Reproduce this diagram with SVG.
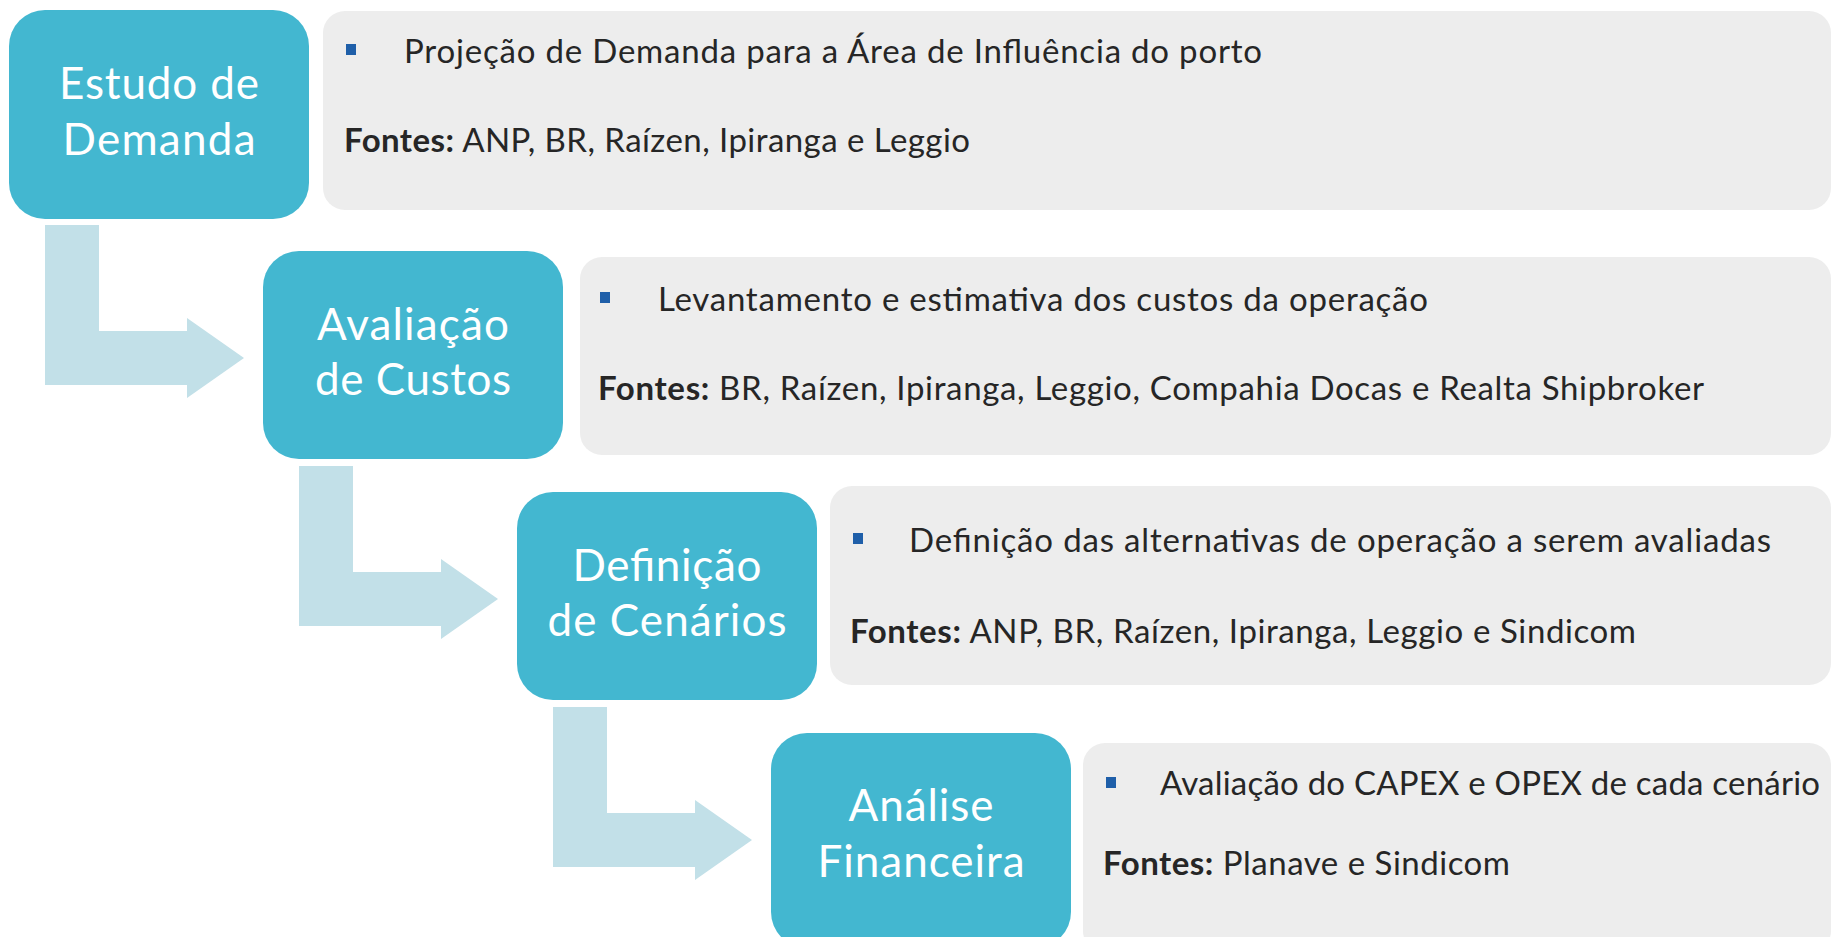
<svg xmlns="http://www.w3.org/2000/svg" width="1833" height="937" viewBox="0 0 1833 937">
<style>
.node rect{fill:#43B7D0}
.node text{font-family:Lato,"Liberation Sans",sans-serif;font-size:44px;fill:#FFFFFF;text-anchor:middle}
.panel rect.bg{fill:#EDEDED}
.panel rect.bul{fill:#1F5FA9}
.panel text{font-family:Lato,"Liberation Sans",sans-serif;font-size:33px;fill:#262626}
.panel tspan.b{font-weight:bold}
.arrow{fill:#C2E0E8}
</style>
<rect width="1833" height="937" fill="#FFFFFF"/>
<g id="connectors">
<polygon class="arrow" points="45,225 99,225 99,331 187,331 187,318 244,358 187,398 187,385 45,385"/>
<polygon class="arrow" points="299,466 353,466 353,572 441,572 441,559 498,599 441,639 441,626 299,626"/>
<polygon class="arrow" points="553,707 607,707 607,813 695,813 695,800 752,840 695,880 695,867 553,867"/>
</g>
<g id="node-estudo" class="node">
<rect x="9" y="10" width="300" height="209" rx="36"/>
<text x="159" y="99" textLength="200" lengthAdjust="spacing">Estudo de</text>
<text x="159" y="155" textLength="193" lengthAdjust="spacing">Demanda</text>
</g>
<g id="panel-estudo" class="panel">
<rect class="bg" x="323" y="11" width="1508" height="199" rx="22"/>
<rect class="bul" x="346" y="44" width="10" height="11"/>
<text x="404" y="63" textLength="858" lengthAdjust="spacing">Projeção de Demanda para a Área de Influência do porto</text>
<text x="344" y="152" textLength="626" lengthAdjust="spacing"><tspan class="b">Fontes:</tspan> ANP, BR, Raízen, Ipiranga e Leggio</text>
</g>
<g id="node-avaliacao" class="node">
<rect x="263" y="251" width="300" height="208" rx="36"/>
<text x="413" y="340" textLength="192" lengthAdjust="spacing">Avaliação</text>
<text x="413" y="395" textLength="196" lengthAdjust="spacing">de Custos</text>
</g>
<g id="panel-avaliacao" class="panel">
<rect class="bg" x="580" y="257" width="1251" height="198" rx="22"/>
<rect class="bul" x="600" y="292" width="10" height="11"/>
<text x="658" y="311" textLength="770" lengthAdjust="spacing">Levantamento e estimativa dos custos da operação</text>
<text x="598" y="400" textLength="1106" lengthAdjust="spacing"><tspan class="b">Fontes:</tspan> BR, Raízen, Ipiranga, Leggio, Compahia Docas e Realta Shipbroker</text>
</g>
<g id="node-definicao" class="node">
<rect x="517" y="492" width="300" height="208" rx="36"/>
<text x="667" y="581" textLength="189" lengthAdjust="spacing">Definição</text>
<text x="667" y="636" textLength="239" lengthAdjust="spacing">de Cenários</text>
</g>
<g id="panel-definicao" class="panel">
<rect class="bg" x="830" y="486" width="1001" height="199" rx="22"/>
<rect class="bul" x="853" y="533" width="10" height="11"/>
<text x="909" y="552" textLength="862" lengthAdjust="spacing">Definição das alternativas de operação a serem avaliadas</text>
<text x="850" y="643" textLength="786" lengthAdjust="spacing"><tspan class="b">Fontes:</tspan> ANP, BR, Raízen, Ipiranga, Leggio e Sindicom</text>
</g>
<g id="node-analise" class="node">
<rect x="771" y="733" width="300" height="215" rx="36"/>
<text x="921" y="821" textLength="145" lengthAdjust="spacing">Análise</text>
<text x="921" y="877" textLength="207" lengthAdjust="spacing">Financeira</text>
</g>
<g id="panel-analise" class="panel">
<rect class="bg" x="1083" y="743" width="748" height="210" rx="22"/>
<rect class="bul" x="1106" y="777" width="10" height="11"/>
<text x="1160" y="795" textLength="660" lengthAdjust="spacing">Avaliação do CAPEX e OPEX de cada cenário</text>
<text x="1103" y="875" textLength="407" lengthAdjust="spacing"><tspan class="b">Fontes:</tspan> Planave e Sindicom</text>
</g>
</svg>
